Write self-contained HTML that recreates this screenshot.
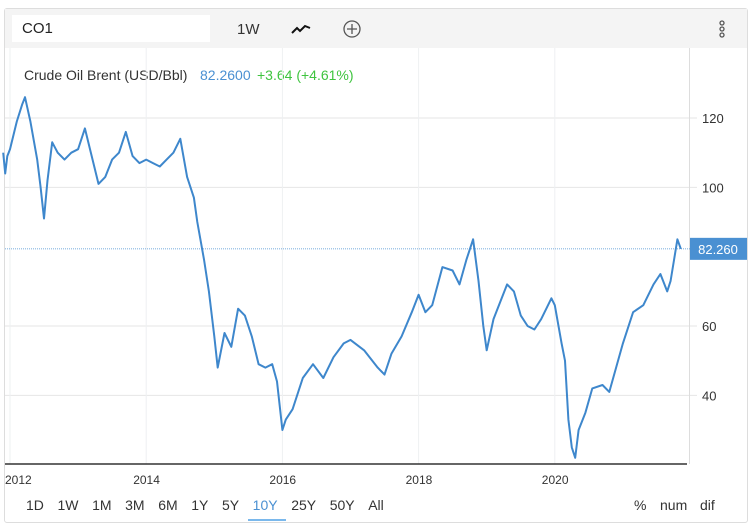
<!DOCTYPE html>
<html><head><meta charset="utf-8"><style>
body{margin:0;width:752px;height:528px;background:#fff;font-family:"Liberation Sans",sans-serif;overflow:hidden;position:relative}
.card{position:absolute;left:4px;top:8px;width:742px;height:513px;border:1px solid #ddd;border-radius:3px;background:#fff}
.hdr{position:absolute;left:0;top:0;width:742px;height:39px;background:#f4f4f4}
.inp{position:absolute;left:7px;top:6px;width:198px;height:27px;background:#fff;font-size:15px;line-height:27px;padding-left:10px;box-sizing:border-box;color:#222}
.t{position:absolute;font-size:14px;color:#333}
.rng span{margin-right:13.6px}
</style></head><body>
<div class="card">
<div class="hdr">
<div class="inp">CO1</div>
<div class="t" style="left:232px;top:12px;font-size:15px">1W</div>
<svg style="position:absolute;left:286px;top:14px" width="20" height="12"><polyline points="1,10 6,5 9,8 14,3 19,5" fill="none" stroke="#111" stroke-width="2"/></svg>
<svg style="position:absolute;left:337px;top:10px" width="20" height="20"><circle cx="10" cy="10" r="8" fill="none" stroke="#555" stroke-width="1.3"/><path d="M10 5V15M5 10H15" stroke="#555" stroke-width="1.3"/></svg>
<svg style="position:absolute;left:713px;top:10px" width="8" height="22"><circle cx="4" cy="4" r="2" fill="none" stroke="#555" stroke-width="1.3"/><circle cx="4" cy="10" r="2" fill="none" stroke="#555" stroke-width="1.3"/><circle cx="4" cy="16" r="2" fill="none" stroke="#555" stroke-width="1.3"/></svg>
</div>
</div>
<div class="t" style="left:24px;top:67px">Crude Oil Brent (USD/Bbl)</div>
<div class="t" style="left:200px;top:67px;color:#4a90d2">82.2600</div>
<div class="t" style="left:257px;top:67px;color:#3fc43f">+3.64 (+4.61%)</div>
<svg id="ch" style="position:absolute;left:0;top:0" width="752" height="528"></svg>
<div class="t rng" style="left:26px;top:497px">
<span>1D</span><span>1W</span><span>1M</span><span>3M</span><span>6M</span><span>1Y</span><span>5Y</span><span style="color:#4a90d2">10Y</span><span>25Y</span><span>50Y</span><span>All</span></div>
<div style="position:absolute;left:248px;top:519px;width:38px;height:2px;background:#7ab8ec"></div>
<div class="t" style="left:634px;top:497px">%</div>
<div class="t" style="left:660px;top:497px">num</div>
<div class="t" style="left:700px;top:497px">dif</div>
<script>
const dates=[2011.9,2011.93,2011.96,2012.0,2012.1,2012.18,2012.22,2012.3,2012.4,2012.45,2012.5,2012.55,2012.62,2012.7,2012.8,2012.9,2013.0,2013.1,2013.2,2013.3,2013.4,2013.5,2013.6,2013.7,2013.8,2013.9,2014.0,2014.1,2014.2,2014.3,2014.4,2014.5,2014.6,2014.7,2014.75,2014.85,2014.92,2015.0,2015.05,2015.15,2015.25,2015.35,2015.45,2015.55,2015.65,2015.75,2015.85,2015.92,2016.0,2016.05,2016.15,2016.3,2016.45,2016.6,2016.75,2016.9,2017.0,2017.2,2017.4,2017.5,2017.6,2017.75,2017.9,2018.0,2018.1,2018.2,2018.35,2018.5,2018.6,2018.7,2018.8,2018.88,2018.95,2019.0,2019.1,2019.3,2019.4,2019.5,2019.6,2019.7,2019.8,2019.95,2020.0,2020.1,2020.15,2020.2,2020.25,2020.3,2020.35,2020.45,2020.55,2020.7,2020.8,2020.9,2021.0,2021.15,2021.3,2021.45,2021.55,2021.65,2021.7,2021.75,2021.8,2021.85];
const prices=[110,104,109,111,119,124,126,119,108,100,91,102,113,110,108,110,111,117,109,101,103,108,110,116,109,107,108,107,106,108,110,114,103,97,90,79,70,57,48,58,54,65,63,57,49,48,49,44,30,33,36,45,49,45,51,55,56,53,48,46,52,57,64,69,64,66,77,76,72,79,85,73,60,53,62,72,70,63,60,59,62,68,66,55,50,33,25,22,30,35,42,43,41,48,55,64,66,72,75,70,73,79,85,82.26];
const yTicks=[40,60,100,120];
const xTicks=[2012,2014,2016,2018,2020];
const X=d=>10+(d-2012)*68.1;
const Y=v=>118+(120-v)*3.467;
const s=document.getElementById('ch');const NS='http://www.w3.org/2000/svg';
function mk(t,a,p){const e=document.createElementNS(NS,t);for(const k in a)e.setAttribute(k,a[k]);(p||s).appendChild(e);return e;}
yTicks.forEach(v=>{const l=mk('line',{x1:5,x2:697,y1:Y(v),y2:Y(v),stroke:'#e6e6e6'});


const t=mk('text',{x:702,y:Y(v)+5,'font-size':13,fill:'#333','font-family':'Liberation Sans'});t.textContent=v;

});
xTicks.forEach(d=>{const l=mk('line',{x1:X(d),x2:X(d),y1:48,y2:464,stroke:'#eef0f2'});


const t=mk('text',{x:Math.max(X(d)-13,5),y:484,'font-size':12,fill:'#333','font-family':'Liberation Sans'});t.textContent=d;

});
const ax=mk('line',{x1:689.5,x2:689.5,y1:48,y2:464,stroke:'#ddd'});


const xa=mk('line',{x1:5,x2:687,y1:464,y2:464,stroke:'#333','stroke-width':1.5});


const last=prices[prices.length-1];
const ref=mk('line',{x1:5,x2:690,y1:Y(last),y2:Y(last),stroke:'#4a90d2','stroke-dasharray':'1,1','stroke-width':0.8});


const pl=mk('polyline',{points:dates.map((d,i)=>X(d).toFixed(1)+','+Y(prices[i]).toFixed(1)).join(' '),fill:'none',stroke:'#3e87cc','stroke-width':2,'stroke-linejoin':'round'});


const bx=mk('rect',{x:690,y:Y(last)-11,width:57,height:22,fill:'#4a90d2'});


const bt=mk('text',{x:718,y:Y(last)+5,'font-size':13,fill:'#fff','text-anchor':'middle','font-family':'Liberation Sans'});bt.textContent=last.toFixed(3);


</script>
</body></html>
